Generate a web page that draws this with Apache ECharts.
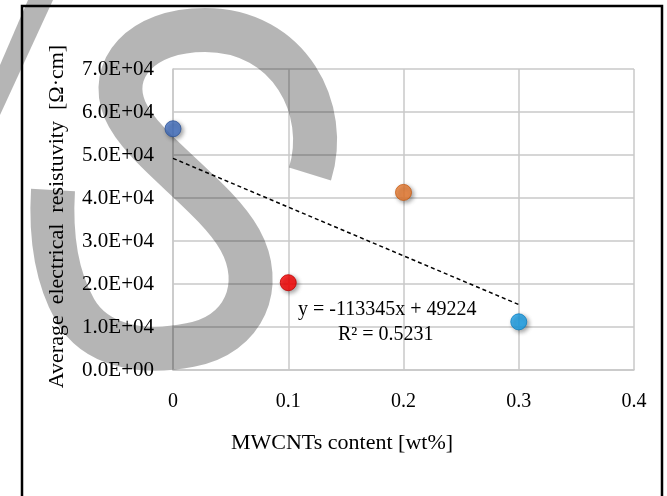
<!DOCTYPE html>
<html>
<head>
<meta charset="utf-8">
<script src="https://cdn.jsdelivr.net/npm/echarts@6/dist/echarts.min.js"></script>
<style>
html,body{margin:0;padding:0;background:#fff;}
#chart{width:667px;height:496px;}
</style>
</head>
<body>
<div id="chart"></div>
<script>
// ---- data ----
const xValues = [0, 0.1, 0.2, 0.3];
const resistivity = [56100, 20300, 41300, 11200];
const pointColors = ['#4472C4', '#FF0000', '#ED7D31', '#1AA3EC'];
const pointBorders = ['#2F5597', '#C00000', '#C55A11', '#0E7FC0'];
const yTickLabels = ['0.0E+00', '1.0E+04', '2.0E+04', '3.0E+04', '4.0E+04', '5.0E+04', '6.0E+04', '7.0E+04'];
const xTickLabels = ['0', '0.1', '0.2', '0.3', '0.4'];
const trendSlope = -113345;
const trendIntercept = 49224;
const trendXRange = [0, 0.3];
const equationText = 'y = -113345x + 49224';
const r2Text = 'R² = 0.5231';
const xTitle = 'MWCNTs content [wt%]';
const yTitle = 'Average  electrical  resistuvity  [Ω·cm]';

const serif = '"Liberation Serif", "Times New Roman", serif';
const chart = echarts.init(document.getElementById('chart'), null, {renderer: 'canvas'});

const scatterData = xValues.map((x, i) => ({
  value: [x, resistivity[i]],
  itemStyle: {color: pointColors[i], borderColor: pointBorders[i], borderWidth: 1,
    shadowBlur: 4, shadowColor: 'rgba(0,0,0,0.45)', shadowOffsetX: 2, shadowOffsetY: 2}
}));
const trendData = trendXRange.map(x => [x, trendSlope * x + trendIntercept]);
const gridColor = '#c8c8c8';
const watermarkPath = 'M 310 174 C 330 110 290 30 205 30 C 140 30 108 70 125 110 C 142 150 215 195 240 240 C 265 285 245 335 190 345 C 140 355 95 345 75 310 C 58 280 50 240 53 190';

chart.setOption({
  animation: false,
  backgroundColor: '#fff',
  grid: {left: 173, right: 33, top: 69, bottom: 126},
  xAxis: {
    type: 'value', min: 0, max: 0.4, interval: 0.1,
    axisLine: {show: true, lineStyle: {color: gridColor, width: 1.5}},
    axisTick: {show: false},
    splitLine: {show: true, lineStyle: {color: gridColor, width: 1.5}},
    axisLabel: {margin: 22, fontFamily: serif, fontSize: 20, color: '#000',
      formatter: (v) => xTickLabels[Math.round(v * 10)]}
  },
  yAxis: {
    type: 'value', min: 0, max: 70000, interval: 10000,
    axisLine: {show: true, lineStyle: {color: gridColor, width: 1.5}},
    axisTick: {show: false},
    splitLine: {show: true, lineStyle: {color: gridColor, width: 1.5}},
    axisLabel: {margin: 19, fontFamily: serif, fontSize: 21, color: '#000',
      formatter: (v) => yTickLabels[Math.round(v / 10000)]},
    name: yTitle, nameLocation: 'middle', nameGap: 105, nameRotate: 90,
    nameTextStyle: {fontFamily: serif, fontSize: 22, color: '#000', padding: [0, 0, 0, 6]}
  },
  graphic: [
    {type: 'polygon', z: 1, silent: true,
      shape: {points: [[28, 0], [53, 0], [0, 115], [0, 65]]},
      style: {fill: 'rgba(0,0,0,0.29)'}},
    {type: 'rect', z: 10, silent: true,
      shape: {x: 22, y: 6, width: 640, height: 500},
      style: {fill: null, stroke: '#000', lineWidth: 2.5}},
    {type: 'text', z: 5, left: 298, top: 300,
      style: {text: equationText, font: '20px ' + serif, fill: '#000'}},
    {type: 'text', z: 5, left: 338, top: 325,
      style: {text: r2Text, font: '20px ' + serif, fill: '#000'}},
    {type: 'text', z: 5, x: 342, y: 443,
      style: {text: xTitle, font: '22px ' + serif, fill: '#000', textAlign: 'center', textVerticalAlign: 'middle'}}
  ],
  series: [
    {type: 'custom', coordinateSystem: 'none', data: [0], z: 1, silent: true,
      renderItem: () => ({type: 'path', shape: {pathData: watermarkPath},
        style: {fill: 'none', stroke: 'rgba(0,0,0,0.29)', lineWidth: 44, lineCap: 'butt'}})},
    {type: 'line', data: trendData, showSymbol: false, symbol: 'none', z: 3,
      lineStyle: {color: '#000', width: 1.5, type: [4, 3]}},
    {type: 'scatter', data: scatterData, symbolSize: 16, z: 4}
  ]
});
</script>
</body>
</html>
